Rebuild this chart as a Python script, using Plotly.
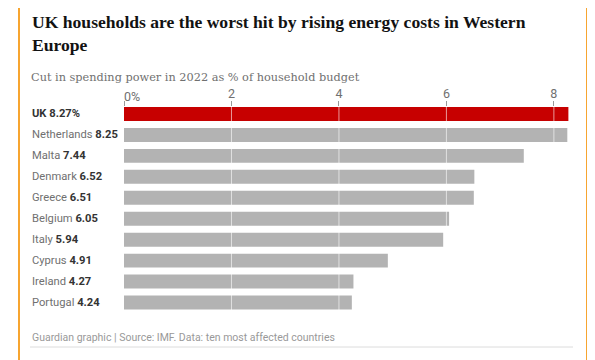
import plotly.graph_objects as go

countries = ["UK", "Netherlands", "Malta", "Denmark", "Greece", "Belgium",
             "Italy", "Cyprus", "Ireland", "Portugal"]
values = [8.27, 8.25, 7.44, 6.52, 6.51, 6.05, 5.94, 4.91, 4.27, 4.24]
tick_vals = [0, 2, 4, 6, 8]
tick_text = ["0%", "2", "4", "6", "8"]

title_text = "UK households are the worst hit by rising energy costs in Western<br>Europe"
subtitle_text = "Cut in spending power in 2022 as % of household budget"
footer_text = "Guardian graphic | Source: IMF. Data: ten most affected countries"

# the page body has an 8px margin; work in window pixels and convert
OFF = 8
W, H = 595 - OFF, 360 - OFF
PL, PR, PT, PB = 124, 570, 107, 313          # plot area in window pixels
L, R, T, B = PL - OFF, W - (PR - OFF), PT - OFF, H - (PB - OFF)
PW, PH = W - L - R, H - T - B


def px(x):
    return (x - OFF - L) / PW


def py(y):
    return 1 - (y - OFF - T) / PH


RED = "#c70000"
GREY = "#b3b3b3"
colors = [RED if c == "UK" else GREY for c in countries]
bargap = 1 / 3

fig = go.Figure(go.Bar(
    x=values, y=countries, orientation="h",
    marker=dict(color=colors, line=dict(width=0)),
    hoverinfo="x+y",
))

shapes = []
# gridlines drawn over the bars
for v in tick_vals[1:]:
    shapes.append(dict(type="line", xref="x", yref="paper", x0=v, x1=v, y0=0, y1=1,
                       line=dict(color="rgba(255,255,255,0.6)", width=1), layer="above"))
# orange frame
shapes.append(dict(type="rect", xref="paper", yref="paper",
                   x0=px(19), x1=px(587), y0=py(4), y1=py(380),
                   line=dict(color="#f7a530", width=2), fillcolor="rgba(0,0,0,0)", layer="above"))
# footer rule
shapes.append(dict(type="line", xref="paper", yref="paper",
                   x0=px(30), x1=px(573), y0=py(347), y1=py(347),
                   line=dict(color="#dcdcdc", width=1)))

annotations = []
for c, v in zip(countries, values):
    if c == "UK":
        txt = f"<b>{c} {v:.2f}%</b>"
        col = "#333333"
    else:
        txt = f"{c} <b><span style='color:#333333'>{v:.2f}</span></b>"
        col = "#707070"
    annotations.append(dict(x=px(30), xref="paper", y=c, yref="y", text=txt,
                            xanchor="left", yanchor="middle", showarrow=False,
                            font=dict(family="Roboto", size=11.2, color=col)))

annotations.append(dict(x=px(30), y=py(34), xref="paper", yref="paper", text=f"<b>{title_text}</b>",
                        xanchor="left", yanchor="middle", showarrow=False, align="left",
                        font=dict(family="Liberation Serif", size=17.6, color="#121212")))
annotations.append(dict(x=px(29), y=py(77.5), xref="paper", yref="paper", text=subtitle_text,
                        xanchor="left", yanchor="middle", showarrow=False,
                        font=dict(family="DejaVu Serif", size=11.3, color="#707070")))
annotations.append(dict(x=px(30), y=py(337), xref="paper", yref="paper", text=footer_text,
                        xanchor="left", yanchor="middle", showarrow=False,
                        font=dict(family="Roboto", size=10.5, color="#999999")))
# first tick label is left-aligned at its tick
annotations.append(dict(x=tick_vals[0], xref="x", y=py(96), yref="paper", text=tick_text[0],
                        xanchor="left", yanchor="middle", showarrow=False, xshift=-2,
                        font=dict(family="Roboto", size=12.5, color="#707070")))

fig.update_layout(
    width=W, height=H,
    margin=dict(l=L, r=R, t=T, b=B, pad=0),
    paper_bgcolor="white", plot_bgcolor="white",
    bargap=bargap,
    showlegend=False,
    shapes=shapes,
    annotations=annotations,
    xaxis=dict(range=[0, 8.3], side="top", tickvals=tick_vals,
               ticktext=[""] + tick_text[1:],
               ticks="outside", ticklen=5, tickcolor="#999999", tickwidth=1,
               ticklabelstandoff=-2,
               showgrid=False, zeroline=False, showline=False,
               tickfont=dict(family="Roboto", size=12.5, color="#707070")),
    yaxis=dict(categoryorder="array", categoryarray=countries,
               range=[len(countries) - 0.5, -(1 - bargap) / 2],
               showticklabels=False, showgrid=False, zeroline=False, ticks=""),
)

fig.write_html("out.html")
